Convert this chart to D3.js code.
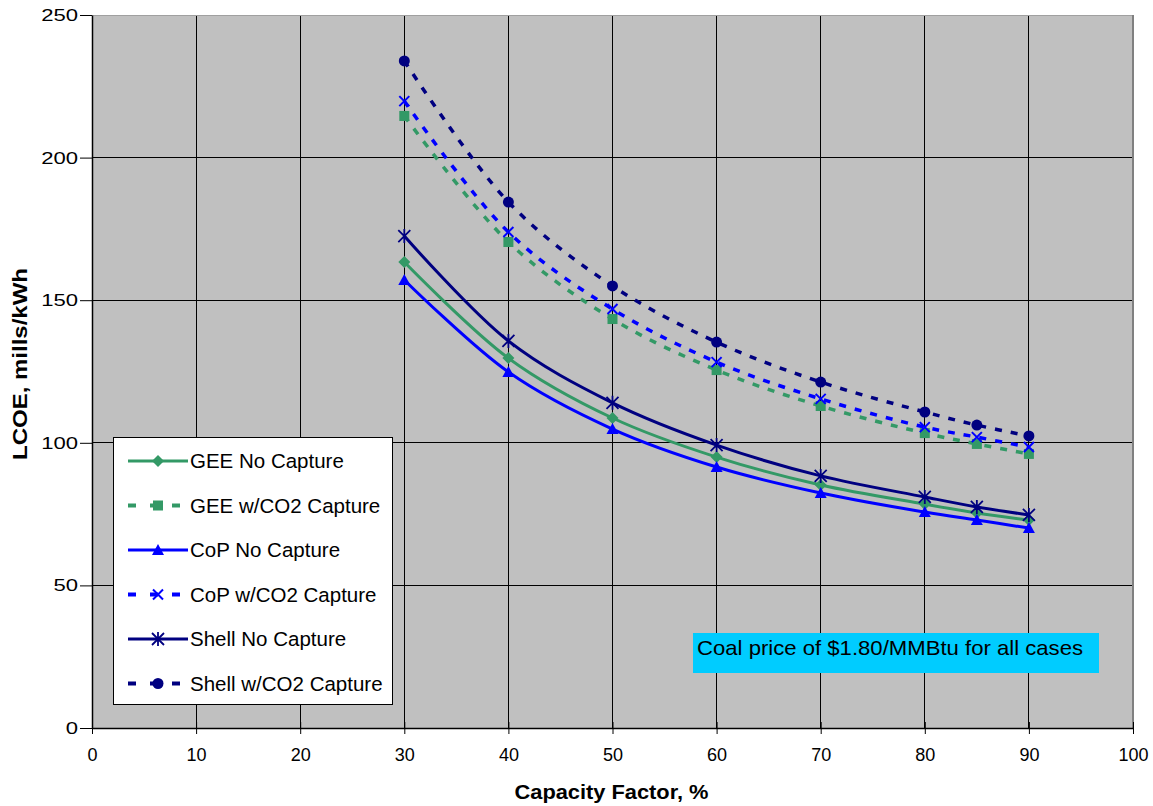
<!DOCTYPE html>
<html><head><meta charset="utf-8">
<script src="https://cdn.jsdelivr.net/npm/d3@7"></script>
<style>body{margin:0;background:#fff;}svg{display:block;font-family:Arial,"Liberation Sans",sans-serif;}</style>
</head><body>
<svg id="c" width="1153" height="806"></svg>
<script>
const capacity = [30, 40, 50, 60, 70, 80, 85, 90];
const geeNo   = [163.4, 129.7, 108.7, 95.0, 85.2, 78.5, 75.4, 72.9];
const geeCap  = [214.6, 170.4, 143.4, 125.5, 112.9, 103.4, 99.6, 96.1];
const copNo   = [157.1, 124.8, 104.8, 91.5, 82.4, 75.7, 72.9, 70.1];
const copCap  = [219.8, 173.9, 146.9, 128.3, 115.4, 105.5, 102.0, 98.5];
const shellNo = [172.5, 135.7, 114.0, 99.2, 88.4, 81.0, 77.5, 74.7];
const shellCap= [233.9, 184.4, 155.0, 135.3, 121.3, 110.8, 106.2, 102.4];
const xTicks = [0,10,20,30,40,50,60,70,80,90,100];
const yTicks = [0,50,100,150,200,250];
const seriesNames = ["GEE No Capture","GEE w/CO2 Capture","CoP No Capture","CoP w/CO2 Capture","Shell No Capture","Shell w/CO2 Capture"];
const note = "Coal price of $1.80/MMBtu for all cases";

const series = [
  {name: seriesNames[0], vals: geeNo,   color:"#339966", dash:null, marker:"diamond"},
  {name: seriesNames[1], vals: geeCap,  color:"#339966", dash:"7,9", marker:"square"},
  {name: seriesNames[2], vals: copNo,   color:"#0000FF", dash:null, marker:"triangle"},
  {name: seriesNames[3], vals: copCap,  color:"#0000FF", dash:"7,9", marker:"x"},
  {name: seriesNames[4], vals: shellNo, color:"#000080", dash:null, marker:"star"},
  {name: seriesNames[5], vals: shellCap,color:"#000080", dash:"7,9", marker:"circle"}
];

const svg = d3.select("#c");
const L=92, R=1133, T=15, B=728;
const x = d3.scaleLinear().domain([0,100]).range([L,R]);
const y = d3.scaleLinear().domain([0,250]).range([B,T]);

svg.append("rect").attr("x",L).attr("y",T).attr("width",R-L).attr("height",B-T).attr("fill","#C0C0C0");
svg.append("g").selectAll("line").data(xTicks.slice(1,-1)).join("line")
  .attr("x1",d=>x(d)).attr("x2",d=>x(d)).attr("y1",T).attr("y2",B).attr("stroke","#000").attr("stroke-width",1).attr("shape-rendering","crispEdges");
svg.append("g").selectAll("line").data(yTicks.slice(1,-1)).join("line")
  .attr("y1",d=>y(d)).attr("y2",d=>y(d)).attr("x1",L).attr("x2",R).attr("stroke","#000").attr("stroke-width",1).attr("shape-rendering","crispEdges");
svg.append("line").attr("x1",L).attr("x2",R).attr("y1",T).attr("y2",T).attr("stroke","#a0a0a0").attr("stroke-width",1).attr("shape-rendering","crispEdges");
svg.append("line").attr("x1",R).attr("x2",R).attr("y1",T).attr("y2",B).attr("stroke","#808080").attr("stroke-width",2).attr("shape-rendering","crispEdges");

const xAxis = d3.axisBottom(x).tickValues(xTicks).tickSize(5).tickSizeOuter(0).tickFormat(d3.format("d"));
const gx = svg.append("g").attr("transform",`translate(0,${B})`).call(xAxis);
gx.select(".domain").attr("stroke","#000").attr("stroke-width",1.5);
gx.selectAll(".tick line").attr("y1",-6).attr("y2",6).attr("stroke","#000");
gx.selectAll("text").attr("font-size",18).attr("font-family","Arial, 'Liberation Sans', sans-serif").attr("dy",0).attr("y",33).attr("fill","#000");
const yAxis = d3.axisLeft(y).tickValues(yTicks).tickSize(5).tickSizeOuter(0);
const gy = svg.append("g").attr("transform",`translate(${L},0)`).call(yAxis);
gy.select(".domain").attr("stroke","#000").attr("stroke-width",1.5);
gy.selectAll(".tick line").attr("x2",-12).attr("stroke","#000");
gy.selectAll("text").attr("font-size",17).attr("font-family","Arial, 'Liberation Sans', sans-serif").attr("x",-14).attr("fill","#000")
  .attr("transform","scale(1.3,1)").attr("x",-14/1.3);

svg.append("text").attr("x",(L+R)/2 - 1).attr("y",799).attr("text-anchor","middle")
  .attr("font-size",21).attr("font-weight","bold").attr("textLength",194).attr("lengthAdjust","spacingAndGlyphs").text("Capacity Factor, %");
svg.append("text").attr("transform",`translate(27,364) rotate(-90)`).attr("text-anchor","middle")
  .attr("font-size",20).attr("font-weight","bold").attr("textLength",192).attr("lengthAdjust","spacingAndGlyphs").text("LCOE, mills/kWh");

function drawMarker(g, type, cx, cy, color){
  const s=6;
  if(type==="diamond") g.append("path").attr("d",`M${cx},${cy-s}L${cx+s},${cy}L${cx},${cy+s}L${cx-s},${cy}Z`).attr("fill",color);
  else if(type==="square") g.append("rect").attr("x",cx-5).attr("y",cy-5).attr("width",10).attr("height",10).attr("fill",color);
  else if(type==="triangle") g.append("path").attr("d",`M${cx},${cy-6}L${cx+6},${cy+5}L${cx-6},${cy+5}Z`).attr("fill",color);
  else if(type==="x") g.append("path").attr("d",`M${cx-5},${cy-5}L${cx+5},${cy+5}M${cx+5},${cy-5}L${cx-5},${cy+5}`).attr("stroke",color).attr("stroke-width",2);
  else if(type==="star") g.append("path").attr("d",`M${cx-6},${cy-6}L${cx+6},${cy+6}M${cx+6},${cy-6}L${cx-6},${cy+6}M${cx},${cy-7}L${cx},${cy+7}`).attr("stroke",color).attr("stroke-width",1.8);
  else if(type==="circle") g.append("circle").attr("cx",cx).attr("cy",cy).attr("r",5.5).attr("fill",color);
}

const line = d3.line().x(d=>x(d[0])).y(d=>y(d[1])).curve(d3.curveCatmullRom.alpha(0.5));
const order=[1,3,5,0,2,4];
order.forEach(i=>{
  const s=series[i];
  const pts = capacity.map((c,j)=>[c,s.vals[j]]);
  const g=svg.append("g");
  g.append("path").datum(pts).attr("d",line).attr("fill","none").attr("stroke",s.color)
    .attr("stroke-width",s.dash?3.5:3).attr("stroke-dasharray",s.dash);
  pts.forEach(p=>drawMarker(g,s.marker,x(p[0]),y(p[1]),s.color));
});

const lg = svg.append("g");
lg.append("rect").attr("x",113.5).attr("y",437.5).attr("width",279).attr("height",267).attr("fill","#fff").attr("stroke","#000").attr("stroke-width",1);
series.forEach((s,i)=>{
  const yy = 461 + i*44.5;
  if(s.dash){
    lg.append("line").attr("x1",128).attr("x2",188).attr("y1",yy).attr("y2",yy).attr("stroke",s.color).attr("stroke-width",4).attr("stroke-dasharray","8,14");
  } else {
    lg.append("line").attr("x1",128).attr("x2",188).attr("y1",yy).attr("y2",yy).attr("stroke",s.color).attr("stroke-width",3);
  }
  drawMarker(lg,s.marker,158,yy,s.color);
  lg.append("text").attr("x",190).attr("y",yy+7).attr("font-size",20.5).attr("fill","#000").text(s.name);
});

svg.append("rect").attr("x",693).attr("y",633).attr("width",406).attr("height",40).attr("fill","#00CCFF");
svg.append("text").attr("x",697).attr("y",655).attr("font-size",21).attr("fill","#000").attr("textLength",386).attr("lengthAdjust","spacingAndGlyphs").text(note);
</script>
</body></html>
